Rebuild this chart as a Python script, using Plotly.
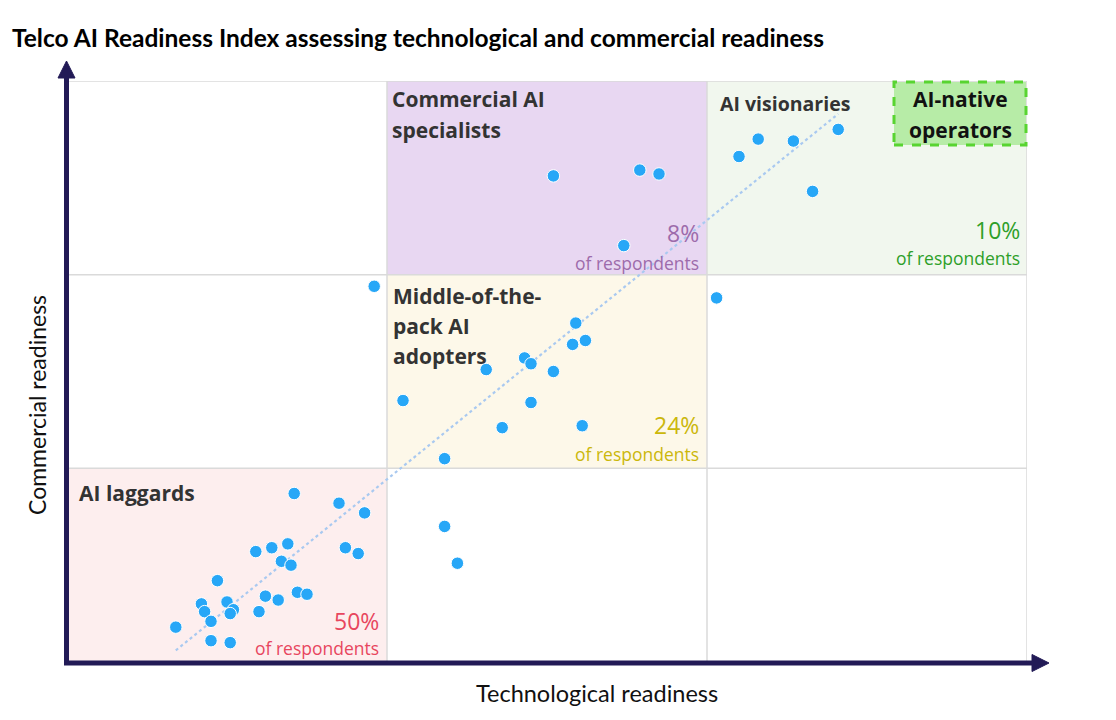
import plotly.graph_objects as go

# ---------------- data (readiness scores, 0-3 scale; thresholds at 1 and 2) ----------------
tech_readiness = [
    # Commercial AI specialists
    1.52, 1.79, 1.85, 1.74,
    # AI visionaries
    2.10, 2.16, 2.27, 2.41, 2.33,
    # off-quadrant respondents
    0.96, 2.03, 1.18, 1.22,
    # Middle-of-the-pack AI adopters
    1.59, 1.58, 1.62, 1.43, 1.45, 1.31, 1.52, 1.05, 1.45, 1.36, 1.61, 1.18,
    # AI laggards
    0.71, 0.85, 0.93, 0.59, 0.64, 0.69, 0.67, 0.70, 0.87, 0.91,
    0.47, 0.62, 0.66, 0.72, 0.75, 0.42, 0.50, 0.43, 0.52, 0.51,
    0.45, 0.60, 0.34, 0.45, 0.51,
]
commercial_readiness = [
    2.51, 2.54, 2.52, 2.15,
    2.61, 2.70, 2.69, 2.75, 2.43,
    1.94, 1.88, 0.70, 0.51,
    1.75, 1.64, 1.66, 1.57, 1.54, 1.51, 1.50, 1.35, 1.34, 1.21, 1.22, 1.05,
    0.87, 0.82, 0.77, 0.57, 0.59, 0.61, 0.52, 0.50, 0.59, 0.56,
    0.42, 0.34, 0.32, 0.36, 0.35, 0.30, 0.31, 0.26, 0.27, 0.25,
    0.21, 0.26, 0.18, 0.11, 0.10,
]
trend_x = [0.34, 2.41]
trend_y = [0.06, 2.83]

segment_names = ["Commercial AI specialists", "AI visionaries", "Middle-of-the-pack AI adopters", "AI laggards"]
segment_shares = ["8%", "10%", "24%", "50%"]

# ---------------- layout geometry ----------------
W, H = 1116, 720
L, R, T, B = 67, 1027, 81, 662   # plot area in pixels


def px_x(p):  # pixel -> data x
    return (p - L) / (R - L) * 3


def px_y(p):  # pixel -> data y
    return (B - p) / (B - T) * 3


def paper_x(p):
    return (p - L) / (R - L)


def paper_y(p):
    return (B - p) / (B - T)


fig = go.Figure()

fig.add_trace(go.Scatter(
    x=trend_x, y=trend_y, mode="lines",
    line=dict(color="#a9c9f0", width=2.2, dash="dot"),
    hoverinfo="skip", showlegend=False,
))
fig.add_trace(go.Scatter(
    x=tech_readiness, y=commercial_readiness, mode="markers",
    marker=dict(color="#27a7f7", size=12.5, line=dict(color="white", width=1)),
    showlegend=False,
))

shapes = []
# quadrant fills
fills = [
    (0, 1, 0, 1, "#fdeeee"),
    (1, 2, 1, 2, "#fdf8e9"),
    (1, 2, 2, 3, "#e8d7f2"),
    (2, 3, 2, 3, "#f1f7ee"),
]
for x0, x1, y0, y1, c in fills:
    shapes.append(dict(type="rect", xref="x", yref="y", x0=x0, x1=x1, y0=y0, y1=y1,
                       fillcolor=c, line=dict(width=0), layer="below"))
# grid lines
for v in [1, 2, 3]:
    shapes.append(dict(type="line", xref="x", yref="y", x0=v, x1=v, y0=0, y1=3,
                       line=dict(color="#dadada", width=1.5), layer="below"))
    shapes.append(dict(type="line", xref="x", yref="y", x0=0, x1=3, y0=v, y1=v,
                       line=dict(color="#dadada", width=1.5), layer="below"))
# AI-native operators box
shapes.append(dict(type="rect", xref="paper", yref="paper",
                   x0=paper_x(894), x1=paper_x(1026), y0=paper_y(145), y1=paper_y(82),
                   fillcolor="#b7eca7", line=dict(color="#58d431", width=3, dash="dash"),
                   layer="above"))
# axis lines with arrowheads
axis_col = "#221a56"
shapes.append(dict(type="line", xref="paper", yref="paper",
                   x0=paper_x(66.5), x1=paper_x(66.5), y0=paper_y(665), y1=paper_y(76),
                   line=dict(color=axis_col, width=5), layer="above"))
shapes.append(dict(type="line", xref="paper", yref="paper",
                   x0=paper_x(64), x1=paper_x(1034), y0=paper_y(663), y1=paper_y(663),
                   line=dict(color=axis_col, width=5), layer="above"))


def tri(points):
    d = "M " + " L ".join(f"{paper_x(a)},{paper_y(b)}" for a, b in points) + " Z"
    return dict(type="path", xref="paper", yref="paper", path=d,
                fillcolor=axis_col, line=dict(color=axis_col, width=1), layer="above")


shapes.append(tri([(66.5, 61), (58, 78), (75, 78)]))
shapes.append(tri([(1049, 663), (1032, 654.5), (1032, 671.5)]))

fig.update_layout(shapes=shapes)

ann = []
label_font = dict(family="Open Sans", size=21, color="#333333", weight="bold")


def label(text, x, y, xanchor="left", font=label_font):
    ann.append(dict(text=text, x=px_x(x), y=px_y(y), xref="x", yref="y",
                    xanchor=xanchor, yanchor="middle", showarrow=False, font=font))


label("Commercial AI", 390, 99)
label("specialists", 390, 130)
label("AI visionaries", 718, 103, font=dict(family="Open Sans", size=19.5, color="#333333", weight="bold"))
label("Middle-of-the-", 391, 296)
label("pack AI", 391, 326)
label("adopters", 391, 356)
label("AI laggards", 77, 493)
native_font = dict(family="Open Sans", size=21, color="#111111", weight="bold")
label("AI-native", 960, 99, "center", native_font)
label("operators", 960, 130, "center", native_font)

pct_colors = ["#9d6bab", "#2e9f29", "#cbb70b", "#e8465e"]
pct_pos = [(701, 233, 263), (1022, 230, 258), (701, 425, 454), (381, 621, 648)]
for share, col, (xr, yp, yr) in zip(segment_shares, pct_colors, pct_pos):
    label(share, xr, yp, "right", dict(family="Open Sans", size=23, color=col))
    label("of respondents", xr, yr, "right", dict(family="Open Sans", size=17.5, color=col))

# axis titles
ann.append(dict(text="Technological readiness", x=paper_x(597), y=paper_y(693),
                xref="paper", yref="paper", xanchor="center", yanchor="middle",
                showarrow=False, font=dict(family="Lato", size=23.5, color="#111111")))
ann.append(dict(text="Commercial readiness", x=paper_x(37), y=paper_y(405),
                xref="paper", yref="paper", xanchor="center", yanchor="middle",
                textangle=-90, showarrow=False,
                font=dict(family="Lato", size=23, color="#111111")))

fig.update_layout(
    annotations=ann,
    width=W, height=H,
    margin=dict(l=L, r=W - R, t=T, b=H - B),
    paper_bgcolor="white", plot_bgcolor="white",
    title=dict(text="<b>Telco AI Readiness Index assessing technological and commercial readiness</b>",
               x=12 / W, xanchor="left", y=1 - 38 / H, yanchor="middle",
               font=dict(family="Lato", size=24.5, color="#000000")),
    xaxis=dict(range=[0, 3], showgrid=False, zeroline=False, showticklabels=False,
               showline=False, ticks="", fixedrange=True),
    yaxis=dict(range=[0, 3], showgrid=False, zeroline=False, showticklabels=False,
               showline=False, ticks="", fixedrange=True),
    showlegend=False,
)

fig.write_html("out.html", config={"displayModeBar": False})
